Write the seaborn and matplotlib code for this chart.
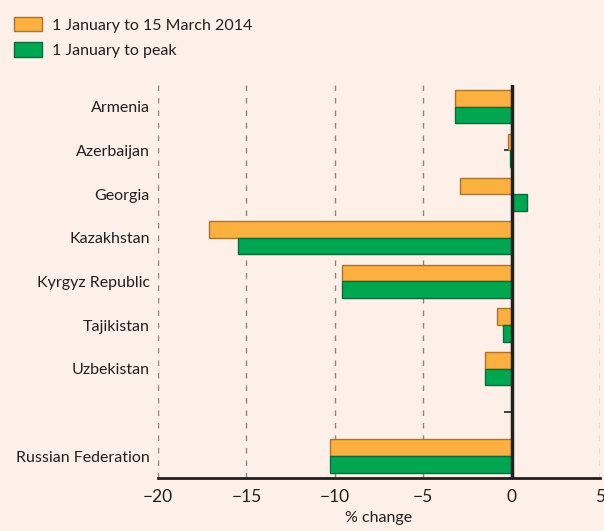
import matplotlib
matplotlib.use("Agg")
import matplotlib.pyplot as plt
import seaborn as sns
import pandas as pd
from matplotlib.patches import Patch

countries = ["Armenia", "Azerbaijan", "Georgia", "Kazakhstan", "Kyrgyz Republic",
             "Tajikistan", "Uzbekistan", "Russian Federation"]
to_march = [-3.2, -0.2, -2.9, -17.1, -9.6, -0.8, -1.5, -10.3]
to_peak = [-3.2, -0.1, 0.85, -15.5, -9.6, -0.5, -1.5, -10.3]
series = ["1 January to 15 March 2014", "1 January to peak"]
order = countries[:7] + [" "] + countries[7:]
xticks = [-20, -15, -10, -5, 0, 5]

df = pd.DataFrame({
    "country": countries * 2,
    "value": to_march + to_peak,
    "series": [series[0]] * len(countries) + [series[1]] * len(countries),
})

bg = "#FCF0E8"
txt = "#231F20"
orange, green = "#FBB040", "#00A651"
orange_e, green_e = "#A8742E", "#0B6B3A"

sns.set_theme(style="white")
plt.rcParams["font.family"] = ["Lato", "DejaVu Sans"]

fig = plt.figure(figsize=(6.04, 5.31), dpi=100, facecolor=bg)
ax = fig.add_axes([0.2616, 0.100, 0.7318, 0.740])
ax.set_facecolor(bg)

sns.barplot(data=df, y="country", x="value", hue="series", order=order,
            hue_order=series, palette=[orange, green], width=0.76,
            orient="h", ax=ax, legend=False, saturation=1)

for i, cont in enumerate(ax.containers):
    ec = orange_e if i == 0 else green_e
    for p in cont.patches:
        p.set_edgecolor(ec)
        p.set_linewidth(1.0)

ax.set_xlim(-20, 5)
ax.set_ylim(len(order) - 0.5, -0.5)
for v in xticks:
    if v != 0:
        ax.axvline(v, color="#8A8580", lw=1.0, ls=(0, (4, 5)), zorder=0)
ax.axvline(0, color=txt, lw=2.5, zorder=5)

ax.set_xticks(xticks)
ax.set_xticklabels([f"\u2212{abs(v)}" if v < 0 else str(v) for v in xticks],
                   fontsize=12.5, color=txt)
ax.tick_params(axis="x", length=0, pad=8)
ax.tick_params(axis="y", length=0, pad=6, labelsize=11.5, labelcolor=txt)
ax.set_xlabel("% change", fontsize=11.5, color=txt, labelpad=4)
ax.set_ylabel("")

for s in ["top", "right", "left"]:
    ax.spines[s].set_visible(False)
ax.spines["bottom"].set_color(txt)
ax.spines["bottom"].set_linewidth(2)

sec = ax.secondary_yaxis(0.8)
sec.set_yticks(range(len(order)))
sec.set_yticklabels([])
sec.tick_params(axis="y", length=6, width=1.2, color=txt, direction="in")
for s in sec.spines.values():
    s.set_visible(False)

handles = [Patch(facecolor=orange, edgecolor=orange_e, label=series[0]),
           Patch(facecolor=green, edgecolor=green_e, label=series[1])]
fig.legend(handles=handles, loc="upper left", bbox_to_anchor=(0.0, 0.995),
           frameon=False, fontsize=11.5, handlelength=1.75, handleheight=1.0,
           labelcolor=txt, handletextpad=0.6, labelspacing=0.6)

fig.savefig("out.png", dpi=100, facecolor=bg)
